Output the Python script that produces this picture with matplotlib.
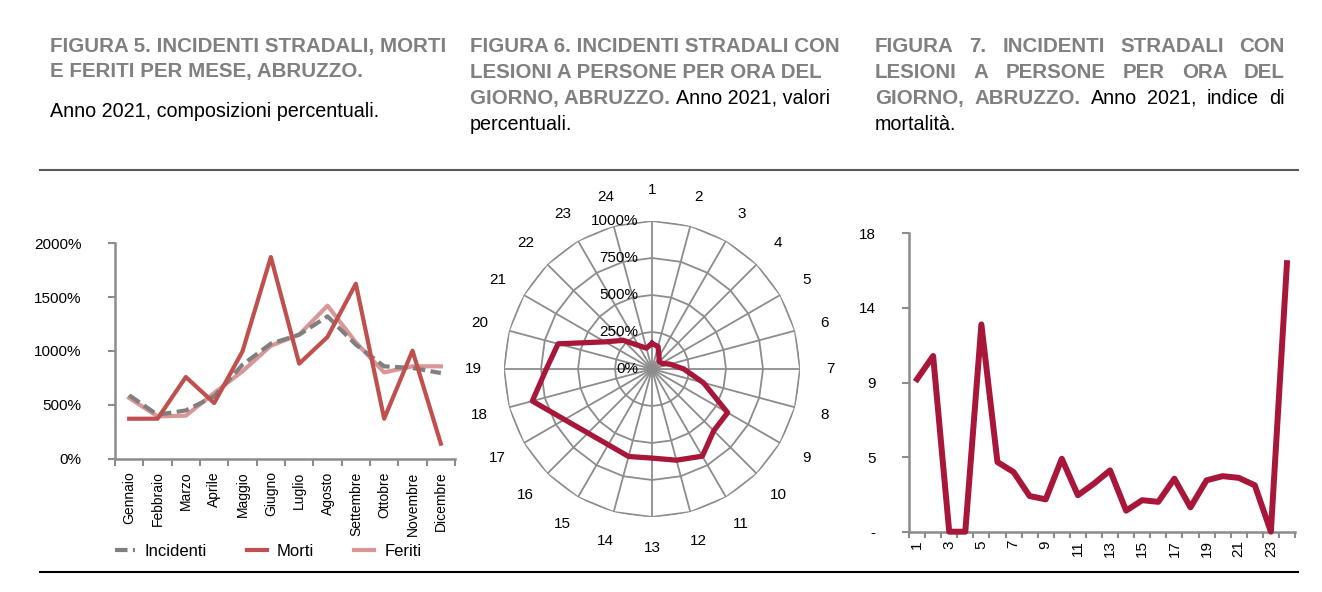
import matplotlib
matplotlib.use('Agg')
import matplotlib.pyplot as plt
from matplotlib.lines import Line2D
import numpy as np

plt.rcParams['font.family'] = ['Liberation Sans', 'DejaVu Sans']

# --- data ---
months = ['Gennaio', 'Febbraio', 'Marzo', 'Aprile', 'Maggio', 'Giugno',
          'Luglio', 'Agosto', 'Settembre', 'Ottobre', 'Novembre', 'Dicembre']
incidenti = [590, 410, 450, 580, 873, 1068, 1151, 1321, 1059, 858, 843, 796]
morti = [373, 373, 759, 518, 997, 1870, 883, 1130, 1623, 373, 1003, 142]
feriti = [565, 395, 401, 611, 812, 1049, 1151, 1420, 1080, 802, 858, 858]

hours = list(range(1, 25))
quota_ora = [173, 157, 95, 70, 77, 126, 215, 360, 590, 590, 680, 638,
             602, 612, 591, 612, 683, 837, 714, 657, 367, 274, 184, 146]
radar_ticks = [0, 250, 500, 750, 1000]
radar_labels = ['0%', '250%', '500%', '750%', '1000%']

mortalita = [9.2, 10.6, 0, 0, 12.5, 4.2, 3.6, 2.15, 1.95, 4.4, 2.2, 2.9,
             3.7, 1.27, 1.9, 1.8, 3.2, 1.47, 3.1, 3.35, 3.25, 2.8, 0, 16.2]
mort_yticks = [0, 4.5, 9, 13.5, 18]
mort_ylabels = ['-', '5', '9', '14', '18']

GRAY_T = '#808080'
CRIMSON = '#a8173a'
AXGRAY = '#8c8c8c'
TICK_FS = 11

W, H = 1322, 592
fig = plt.figure(figsize=(W / 100, H / 100), dpi=100)
renderer = fig.canvas.get_renderer()


def fx(px):
    return px / W


def fy(py):
    return 1 - py / H


def width_of(t):
    return t.get_window_extent(renderer).width


gray_b = dict(color=GRAY_T, fontweight='bold', fontsize=14.8)
black_n = dict(color='black', fontsize=14.2)


def put_runs(x, y, runs):
    '''place text pieces one after another on a baseline (pixel coords)'''
    for txt, kw in runs:
        t = fig.text(fx(x), fy(y), txt, va='baseline', ha='left', **kw)
        sp = fig.text(0, 0, 'x x', **kw)
        nsp = fig.text(0, 0, 'xx', **kw)
        space = width_of(sp) - width_of(nsp)
        sp.remove()
        nsp.remove()
        x += width_of(t) + space


def justify(x0, x1, y, words):
    '''spread words across x0..x1 like a justified paragraph line'''
    texts = [fig.text(0, 0, w, va='baseline', ha='left', **kw) for w, kw in words]
    widths = [width_of(t) for t in texts]
    gap = (x1 - x0 - sum(widths)) / (len(texts) - 1)
    x = x0
    for t, w in zip(texts, widths):
        t.set_position((fx(x), fy(y)))
        x += w + gap


# --- titles ---
put_runs(50, 52, [('FIGURA 5. INCIDENTI STRADALI, MORTI', gray_b)])
put_runs(50, 77, [('E FERITI PER MESE, ABRUZZO.', gray_b)])
put_runs(50, 117, [('Anno 2021, composizioni percentuali.', black_n)])

put_runs(470, 52, [('FIGURA 6. INCIDENTI STRADALI CON', gray_b)])
put_runs(470, 78, [('LESIONI A PERSONE PER ORA DEL', gray_b)])
put_runs(470, 104, [('GIORNO, ABRUZZO.', gray_b), ('Anno 2021, valori', black_n)])
put_runs(470, 130, [('percentuali.', black_n)])

justify(875, 1285, 52, [(w, gray_b) for w in 'FIGURA 7. INCIDENTI STRADALI CON'.split()])
justify(875, 1285, 78, [(w, gray_b) for w in 'LESIONI A PERSONE PER ORA DEL'.split()])
justify(875, 1285, 104, [(w, gray_b) for w in 'GIORNO, ABRUZZO.'.split()]
        + [(w, black_n) for w in 'Anno 2021, indice di'.split()])
put_runs(875, 130, [('mortalità.', black_n)])

fig.add_artist(Line2D([fx(40), fx(1298)], [fy(170), fy(170)], color='#595959', lw=1.5))
fig.add_artist(Line2D([fx(40), fx(1298)], [fy(572), fy(572)], color='black', lw=1.5))

# --- Figura 5: lines by month ---
ax1 = fig.add_axes([fx(115), fy(459), (455 - 115) / W, (459 - 243) / H])
xm = np.arange(len(months))
ax1.plot(xm, feriti, color='#d99694', lw=3, label='Feriti', zorder=2)
ax1.plot(xm, incidenti, color='#7f7f7f', lw=3, ls=(0, (3, 1.3)), label='Incidenti', zorder=3)
ax1.plot(xm, morti, color='#c0504d', lw=3, label='Morti', zorder=4)
ax1.set_xlim(-0.5, len(months) - 0.5)
ax1.set_ylim(0, 2000)
ax1.set_yticks([0, 500, 1000, 1500, 2000])
ax1.set_yticklabels(['0%', '500%', '1000%', '1500%', '2000%'])
ax1.set_xticks(np.arange(-0.5, len(months), 1))
ax1.set_xticklabels([])
ax1.set_xticks(xm, minor=True)
ax1.set_xticklabels(months, minor=True, rotation=90)
ax1.tick_params(axis='x', which='major', length=5, width=1.5, color=AXGRAY, direction='out')
ax1.tick_params(axis='x', which='minor', length=0, pad=9, labelsize=10)
ax1.tick_params(axis='y', length=5, width=1.5, color=AXGRAY, pad=19, labelsize=TICK_FS)
for s in ['top', 'right']:
    ax1.spines[s].set_visible(False)
for s in ['left', 'bottom']:
    ax1.spines[s].set_color(AXGRAY)
    ax1.spines[s].set_linewidth(1.8)

h = {l.get_label(): l for l in ax1.get_lines()}
fig.legend([h['Incidenti'], h['Morti'], h['Feriti']], ['Incidenti', 'Morti', 'Feriti'],
           loc='center', bbox_to_anchor=(fx(268), fy(551)), ncol=3, frameon=False,
           fontsize=12, handlelength=1.2, handletextpad=0.6, columnspacing=2.4)

# --- Figura 6: radar by hour ---
R = 148
axr = fig.add_axes([fx(652 - R), fy(369 + R), 2 * R / W, 2 * R / H], projection='polar')
axr.set_theta_zero_location('N')
axr.set_theta_direction(-1)
theta = np.deg2rad((np.array(hours) - 1) * 15)
theta_c = np.append(theta, theta[0])
for r in radar_ticks[1:]:
    axr.plot(theta_c, [r] * len(theta_c), color=AXGRAY, lw=1.3, zorder=1)
for t in theta:
    axr.plot([t, t], [0, radar_ticks[-1]], color=AXGRAY, lw=1.3, zorder=1)
axr.plot(theta_c, np.append(quota_ora, quota_ora[0]), color=CRIMSON, lw=3.8, zorder=3)
axr.set_ylim(0, radar_ticks[-1])
axr.grid(False)
axr.spines['polar'].set_visible(False)
axr.set_facecolor('none')
axr.set_yticks([])
axr.set_xticks(theta)
axr.set_xticklabels([str(hh) for hh in hours])
axr.tick_params(axis='x', length=0, pad=15, labelsize=TICK_FS)
for r, lbl in zip(radar_ticks, radar_labels):
    axr.annotate(lbl, xy=(0, r), xytext=(-10, 0), textcoords='offset points',
                 ha='right', va='center', fontsize=TICK_FS, annotation_clip=False, zorder=4)

# --- Figura 7: mortality index by hour ---
ax3 = fig.add_axes([fx(909), fy(531.7), 386 / W, 298.4 / H])
ax3.plot(hours, mortalita, color=CRIMSON, lw=4.3, clip_on=False, zorder=3)
ax3.set_xlim(0.5, len(hours) + 0.5)
ax3.set_ylim(0, 18)
ax3.set_yticks(mort_yticks)
ax3.set_yticklabels(mort_ylabels)
ax3.set_xticks(np.arange(0.5, len(hours) + 1, 1))
ax3.set_xticklabels([])
ax3.set_xticks(hours[::2], minor=True)
ax3.set_xticklabels([str(hh) for hh in hours[::2]], minor=True, rotation=90)
ax3.tick_params(axis='x', which='major', length=4, width=1.5, color=AXGRAY, direction='out')
ax3.tick_params(axis='x', which='minor', length=0, pad=6, labelsize=TICK_FS)
ax3.tick_params(axis='y', length=5, width=1.5, color=AXGRAY, pad=19, labelsize=TICK_FS)
for s in ['top', 'right']:
    ax3.spines[s].set_visible(False)
for s in ['left', 'bottom']:
    ax3.spines[s].set_color(AXGRAY)
    ax3.spines[s].set_linewidth(1.8)

fig.savefig('out.png', dpi=100)
